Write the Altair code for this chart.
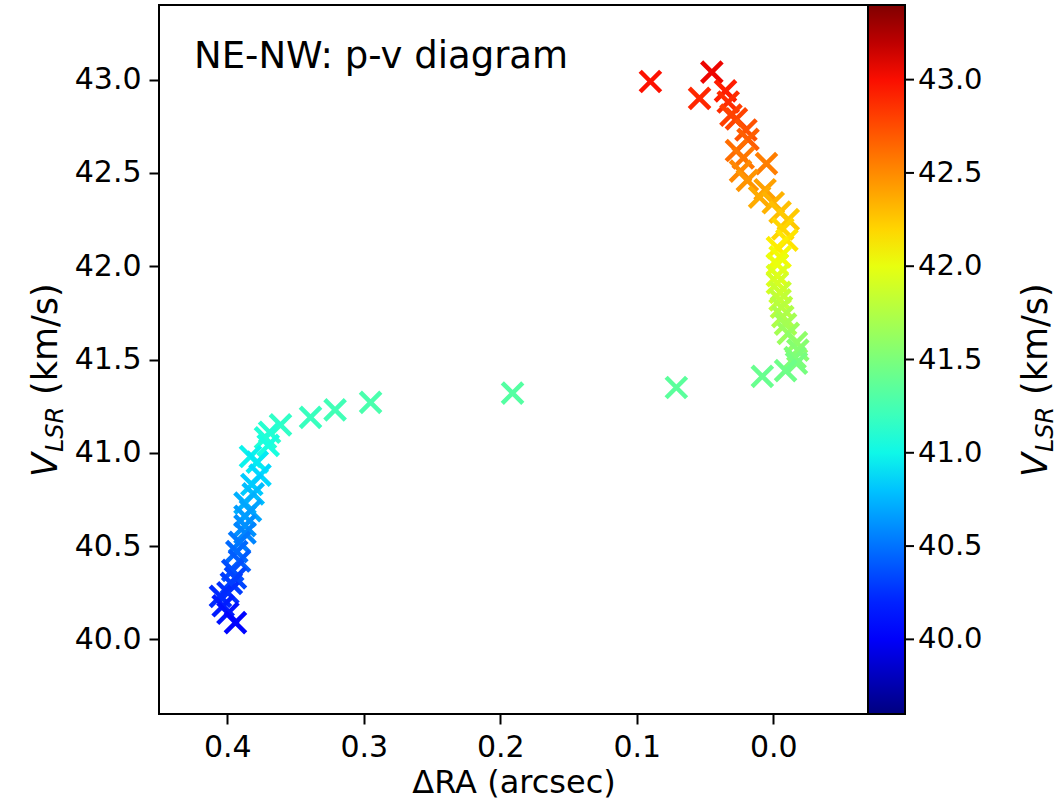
import altair as alt
import numpy as np
import pandas as pd

# Offset in right ascension (arcsec) and LSR velocity (km/s)
ra = [0.090, 0.045, 0.054, 0.035, 0.033, 0.031, 0.027, 0.020, 0.0185, 0.027,
      0.022, 0.005, 0.024, 0.019, 0.006, 0.010, 0.000, -0.005, -0.011, -0.007,
      -0.010, -0.003, -0.005, -0.003, -0.003, -0.003, -0.005, -0.005, -0.006, -0.007,
      -0.009, -0.011, -0.017, -0.018, -0.016, -0.017, -0.009, 0.008, 0.071, 0.191,
      0.295, 0.321, 0.339, 0.361, 0.369, 0.372, 0.370, 0.383, 0.378, 0.376,
      0.382, 0.381, 0.387, 0.383, 0.387, 0.387, 0.387, 0.391, 0.393, 0.391,
      0.396, 0.394, 0.397, 0.3995, 0.405, 0.403, 0.3995, 0.394]
vlsr = [42.99, 43.04, 42.90, 42.94, 42.88, 42.81, 42.79, 42.73, 42.68, 42.62,
        42.58, 42.55, 42.51, 42.46, 42.41, 42.37, 42.34, 42.29, 42.25, 42.20,
        42.14, 42.10, 42.05, 42.01, 41.95, 41.91, 41.86, 41.82, 41.78, 41.73,
        41.69, 41.64, 41.59, 41.55, 41.51, 41.48, 41.44, 41.41, 41.35, 41.32,
        41.27, 41.23, 41.19, 41.15, 41.11, 41.08, 41.04, 40.98, 40.95, 40.88,
        40.83, 40.78, 40.73, 40.69, 40.66, 40.61, 40.57, 40.52, 40.47, 40.42,
        40.37, 40.33, 40.30, 40.25, 40.23, 40.18, 40.14, 40.09]

xticks = [0.4, 0.3, 0.2, 0.1, 0.0]
yticks = [40.0, 40.5, 41.0, 41.5, 42.0, 42.5, 43.0]
x_lim = [-0.0694, 0.45]
v_lim = [39.6, 43.4]
title_text = ["NE-NW: p-v diagram"]

FONT = "DejaVu Sans"


def jet(t):
    r = np.interp(t, [0, 0.35, 0.66, 0.89, 1], [0, 0, 1, 1, 0.5])
    g = np.interp(t, [0, 0.125, 0.375, 0.64, 0.91, 1], [0, 0, 1, 1, 0, 0])
    b = np.interp(t, [0, 0.11, 0.34, 0.65, 1], [0.5, 1, 1, 0, 0])
    return "#%02x%02x%02x" % (int(round(r * 255)), int(round(g * 255)), int(round(b * 255)))


stops = [0, 0.11, 0.125, 0.25, 0.34, 0.35, 0.375, 0.5, 0.64, 0.65, 0.66, 0.75, 0.89, 0.91, 1]
c_dom = [v_lim[0] + s * (v_lim[1] - v_lim[0]) for s in stops]
c_rng = [jet(s) for s in stops]

df = pd.DataFrame({"ra": ra, "v": vlsr})
tick_df = pd.DataFrame({"v": yticks})

xs = alt.Scale(domain=x_lim, reverse=True, nice=False, zero=False)
ys = alt.Scale(domain=v_lim, nice=False, zero=False)
cs = alt.Scale(domain=c_dom, range=c_rng, interpolate="rgb")

points = alt.Chart(df).mark_point(
    shape="M-1,-1L1,1M-1,1L1,-1", filled=False, strokeWidth=4.5, size=420, opacity=1
).encode(
    x=alt.X("ra:Q", scale=xs, axis=alt.Axis(values=xticks, format=".1f", title="ΔRA (arcsec)")),
    y=alt.Y("v:Q", scale=ys, axis=alt.Axis(values=yticks, format=".1f", title=None)),
    color=alt.Color(
        "v:Q", scale=cs,
        legend=alt.Legend(
            orient="none", legendX=709, legendY=0, direction="vertical",
            gradientLength=709, gradientThickness=37, title=None,
            values=yticks, format=".1f", labelFontSize=29, labelFont=FONT,
            labelColor="black", labelOffset=13, labelOverlap=False,
            gradientStrokeColor="black", gradientStrokeWidth=2, padding=0,
        ),
    ),
)

cb_ticks = alt.Chart(tick_df).mark_rule(color="black", strokeWidth=2).encode(
    y=alt.Y("v:Q", axis=alt.Axis(values=yticks, format=".1f", title=None)),
    x=alt.value(746), x2=alt.value(755),
)

tdf = pd.DataFrame({"t": title_text})
title = alt.Chart(tdf).mark_text(
    font=FONT, fontSize=37, align="left", baseline="middle", color="black"
).encode(text="t:N", x=alt.value(35), y=alt.value(52))


def rot_text(txt, x, y, size, italic):
    d = pd.DataFrame({"t": [txt]})
    return alt.Chart(d).mark_text(
        font=FONT, fontSize=size, align="left", baseline="alphabetic", angle=270,
        fontStyle="italic" if italic else "normal", color="black"
    ).encode(text="t:N", x=alt.value(x), y=alt.value(y))


def vlsr_title(xb):
    return [
        rot_text("V", xb, 472, 35, True),
        rot_text("LSR", xb + 6, 447, 24, True),
        rot_text("(km/s)", xb, 390, 35, False),
    ]


layers = [points, cb_ticks, title] + vlsr_title(57 - 159) + vlsr_title(1047 - 159)

chart = alt.layer(*layers).properties(
    width=709, height=709,
    autosize=alt.AutoSizeParams(type="none"),
    padding={"left": 159, "top": 5, "right": 190, "bottom": 91},
).configure_view(
    stroke="black", strokeWidth=2
).configure_axis(
    labelFont=FONT, labelFontSize=30, labelColor="black",
    titleFont=FONT, titleFontSize=32, titleFontWeight="normal", titleColor="black",
    tickColor="black", tickSize=10, tickWidth=2, domain=False, grid=False,
    labelPadding=8,
).configure_axisX(titlePadding=5)

chart.save("out.html", embed_options={"renderer": "svg", "actions": False})
